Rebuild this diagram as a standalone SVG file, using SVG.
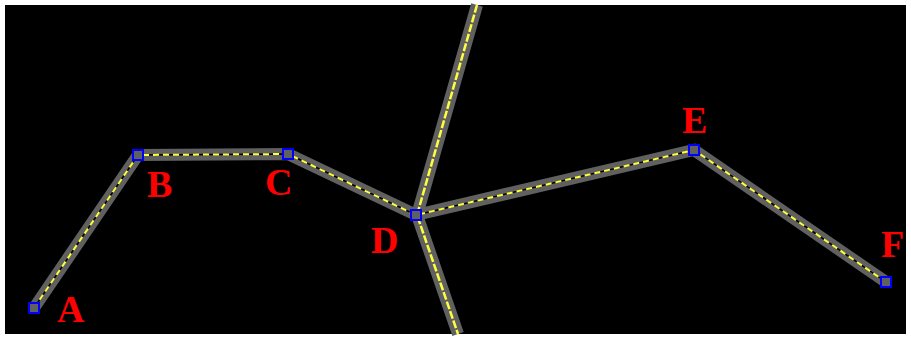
<svg xmlns="http://www.w3.org/2000/svg" width="911" height="338" viewBox="0 0 911 338">
<style>
.band{fill:none;stroke:#606060;stroke-width:12;stroke-linejoin:miter}
.core{fill:none;stroke:#000;stroke-width:1.5}
.dash{fill:none;stroke:#ffff40;stroke-width:2;stroke-dasharray:6 4}
.solid{fill:none;stroke:#ffff40;stroke-width:2.5;stroke-dasharray:8 2}
.pt rect{fill:#606060;stroke:#0000ff;stroke-width:2}
.lbl{font-family:"Liberation Serif",serif;font-weight:bold;font-size:38px;fill:#ff0000}
</style>
<rect x="0" y="0" width="911" height="338" fill="#ffffff"/>
<rect x="5" y="5" width="901" height="329" fill="#000000"/>
<g id="connectors">
<polyline class="band" points="477,5 417,215 458,334"/>
<polyline class="band" points="34,308 138,155 288,154 416,215 694,150 886,282"/>
<polyline class="core" points="34,308 138,155 288,154 416,215 694,150 886,282"/>
<polyline class="dash" points="34,308 138,155 288,154 416,215 694,150 886,282"/>
<polyline class="solid" points="477,5 417,215 458,334"/>
</g>
<g id="A" class="pt"><rect x="29" y="303" width="10" height="10"/><text class="lbl" x="57" y="322">A</text></g>
<g id="B" class="pt"><rect x="133" y="150" width="10" height="10"/><text class="lbl" x="147" y="197">B</text></g>
<g id="C" class="pt"><rect x="283" y="149" width="10" height="10"/><text class="lbl" x="265" y="195">C</text></g>
<g id="D" class="pt"><rect x="411" y="210" width="10" height="10"/><text class="lbl" x="371" y="253">D</text></g>
<g id="E" class="pt"><rect x="689" y="145" width="10" height="10"/><text class="lbl" x="682" y="133">E</text></g>
<g id="F" class="pt"><rect x="881" y="277" width="10" height="10"/><text class="lbl" x="881" y="257">F</text></g>
</svg>
